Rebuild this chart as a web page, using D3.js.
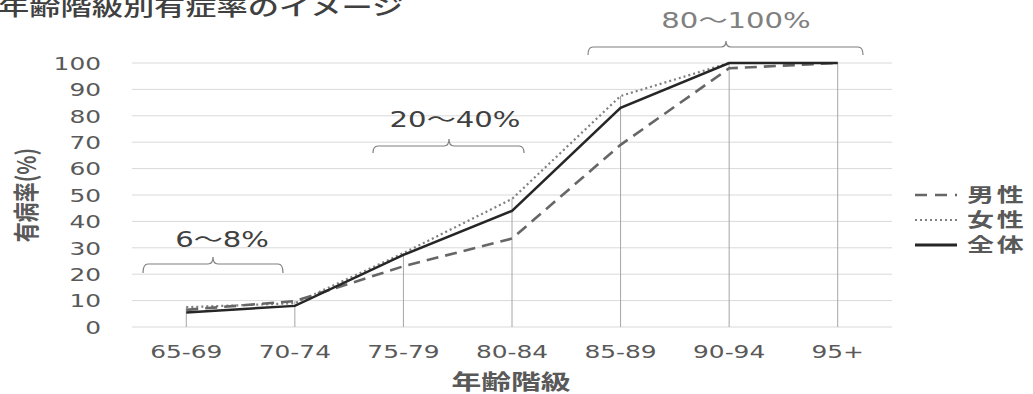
<!DOCTYPE html>
<html><head><meta charset="utf-8">
<script src="https://cdn.jsdelivr.net/npm/d3@7"></script>
<style>
html,body{margin:0;padding:0;background:#fff;overflow:hidden;}
svg{display:block;}
</style></head>
<body>
<script>
const categories = ["65-69","70-74","75-79","80-84","85-89","90-94","95+"];
const maleValues   = [6.5, 9.8, 23, 33.5, 69, 98, 100];
const femaleValues = [7.5, 9, 28, 48.5, 87.5, 100, 100];
const totalValues  = [5.5, 8, 27.3, 44, 83, 100, 100];
const yTicks = [0,10,20,30,40,50,60,70,80,90,100];
const seriesNames = ["男性","女性","全体"];
const titleText = "年齢階級別有症率のイメージ";
const yAxisTitle = "有病率(%)";
const xAxisTitle = "年齢階級";
const annotations = [
  {text:"6〜8%", from:"65-69", to:"70-74"},
  {text:"20〜40%", from:"75-79", to:"80-84"},
  {text:"80〜100%", from:"85-89", to:"95+"}
];

const W = 1033, H = 394, SX = 1.42;
const NUM = "'DejaVu Sans','Noto Sans CJK JP',sans-serif";
const JP = "'Noto Sans CJK JP','DejaVu Sans',sans-serif";

const svg = d3.select("body").append("svg").attr("width", W).attr("height", H);

const x = d3.scaleBand().domain(categories).range([132, 892]).paddingInner(0).paddingOuter(0);
const cx = c => x(c) + x.bandwidth()/2;
const y = d3.scaleLinear().domain([0,100]).range([327, 63]);

// gridlines
svg.append("g").selectAll("line").data(yTicks).join("line")
  .attr("x1", 132).attr("x2", 892)
  .attr("y1", d => y(d)).attr("y2", d => y(d))
  .attr("stroke", "#d9d9d9").attr("stroke-width", 1);

// y axis labels
const yAxis = svg.append("g").attr("transform", "translate(101,0)")
  .call(d3.axisLeft(y).tickValues(yTicks).tickSize(0).tickPadding(0));
yAxis.select(".domain").remove();
yAxis.selectAll("text")
  .attr("x", null).attr("dy", "0.36em")
  .attr("transform", "scale(" + SX + ",1)")
  .attr("fill", "#595959").style("font-family", NUM).style("font-size", "17.5px")
  .attr("text-anchor", "end");

// x axis labels
const xAxis = svg.append("g").attr("transform", "translate(0,352)")
  .call(d3.axisBottom(x).tickSize(0).tickPadding(0));
xAxis.select(".domain").remove();
xAxis.selectAll(".tick text")
  .attr("y", null).attr("dy", "0.36em")
  .attr("transform", "scale(" + SX + ",1)")
  .attr("fill", "#595959").style("font-family", NUM).style("font-size", "17.5px");

// drop lines (from highest value to axis)
const maxVals = categories.map((c,i) => Math.max(maleValues[i], femaleValues[i], totalValues[i]));
svg.append("g").selectAll("line").data(categories).join("line")
  .attr("x1", d => cx(d)).attr("x2", d => cx(d))
  .attr("y1", (d,i) => y(maxVals[i])).attr("y2", y(0))
  .attr("stroke", "#a6a6a6").attr("stroke-width", 1);

// lines
const line = d3.line().x((d,i) => cx(categories[i])).y(d => y(d));
svg.append("path").datum(femaleValues).attr("d", line)
  .attr("fill","none").attr("stroke","#7f7f7f").attr("stroke-width",2.2)
  .attr("stroke-dasharray","2,3");
svg.append("path").datum(maleValues).attr("d", line)
  .attr("fill","none").attr("stroke","#666666").attr("stroke-width",2.6)
  .attr("stroke-dasharray","12,7");
svg.append("path").datum(totalValues).attr("d", line)
  .attr("fill","none").attr("stroke","#262626").attr("stroke-width",2.5);

// title
svg.append("text").attr("transform", "translate(-2,15) scale(" + SX + ",1)")
  .text(titleText).attr("fill","#404040")
  .style("font-family", JP).style("font-size","22px").style("font-weight","500");

// y axis title
svg.append("text").attr("transform", "translate(27,195) scale(1.3,1) rotate(-90)")
  .attr("text-anchor","middle").attr("dy","0.36em")
  .text(yAxisTitle).attr("fill","#595959")
  .style("font-family", JP).style("font-size","20px").style("font-weight","bold");

// x axis title
svg.append("text").attr("transform", "translate(511,389) scale(" + SX + ",1)")
  .attr("text-anchor","middle")
  .text(xAxisTitle).attr("fill","#595959")
  .style("font-family", JP).style("font-size","21px").style("font-weight","bold");

// annotations: braces + labels
const annLayout = [
  {x1:143, x2:283, xm:213, tipY:257, lineY:264, endY:273, tx:222, ty:247, color:"#404040"},
  {x1:373, x2:524, xm:449, tipY:139, lineY:146, endY:153, tx:455, ty:127, color:"#404040"},
  {x1:588, x2:863, xm:726, tipY:41, lineY:47, endY:55, tx:736, ty:28, color:"#808080"}
];
function bracePath(b){
  const r = 5;
  return `M${b.x1},${b.endY} Q${b.x1},${b.lineY} ${b.x1+r},${b.lineY} L${b.xm-r},${b.lineY} Q${b.xm},${b.lineY} ${b.xm},${b.tipY} Q${b.xm},${b.lineY} ${b.xm+r},${b.lineY} L${b.x2-r},${b.lineY} Q${b.x2},${b.lineY} ${b.x2},${b.endY}`;
}
const ag = svg.append("g");
annotations.forEach((a,i) => {
  const b = annLayout[i];
  ag.append("path").attr("d", bracePath(b)).attr("fill","none")
    .attr("stroke","#7f7f7f").attr("stroke-width",1.2);
  ag.append("text").attr("transform", `translate(${b.tx},${b.ty}) scale(${SX},1)`)
    .attr("text-anchor","middle").text(a.text).attr("fill", b.color)
    .style("font-family", NUM).style("font-size","20.5px");
});

// legend
const legend = svg.append("g").attr("transform","translate(915,0)");
const legendItems = [
  {name: seriesNames[0], stroke:"#666666", w:2.6, dash:"12,8", y:195},
  {name: seriesNames[1], stroke:"#7f7f7f", w:2.2, dash:"2,3", y:220},
  {name: seriesNames[2], stroke:"#262626", w:3, dash:null, y:245}
];
legendItems.forEach(it => {
  legend.append("line").attr("x1",0).attr("x2",42).attr("y1",it.y).attr("y2",it.y)
    .attr("stroke",it.stroke).attr("stroke-width",it.w)
    .attr("stroke-dasharray", it.dash);
  legend.append("text").attr("transform",`translate(52,${it.y}) scale(${SX},1)`)
    .attr("dy","0.36em").text(it.name).attr("fill","#595959")
    .style("font-family", JP).style("font-size","19px").style("font-weight","bold")
    .style("letter-spacing","2px");
});
</script>
</body></html>
